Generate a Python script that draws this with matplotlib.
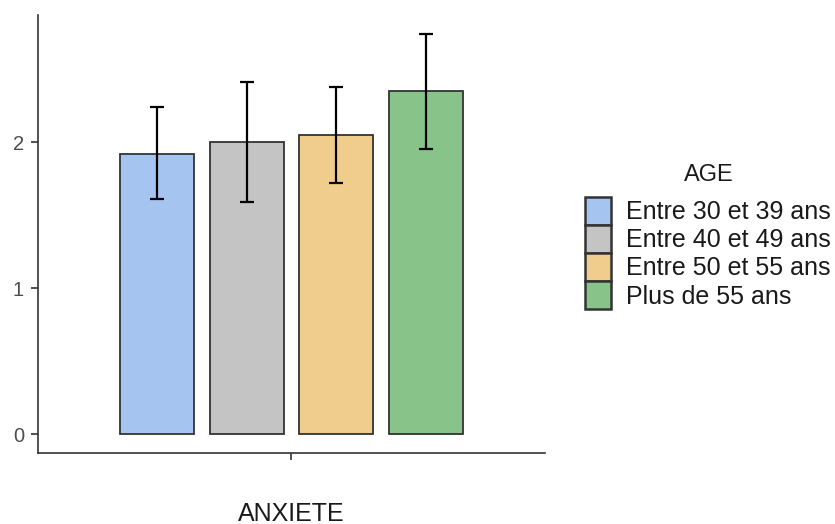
import numpy as np
import matplotlib
matplotlib.use("Agg")
import matplotlib.pyplot as plt
from matplotlib.patches import Patch

#### data

groups = ["Entre 30 et 39 ans", "Entre 40 et 49 ans", "Entre 50 et 55 ans", "Plus de 55 ans"]
means = [1.92, 2.00, 2.05, 2.35]
err_low = [1.61, 1.59, 1.72, 1.95]
err_high = [2.24, 2.41, 2.38, 2.74]
colors = ["#A6C4F0", "#C4C4C4", "#F0CD8D", "#88C38A"]
variable = "ANXIETE"
legend_title = "AGE"

#### figure

plt.rcParams["font.family"] = ["Liberation Sans", "DejaVu Sans"]
dark = "#333333"

fig = plt.figure(figsize=(8.35, 5.24), dpi=100)
ax = fig.add_axes([38 / 835, 71 / 524, 507 / 835, 438 / 524])

# dodged bars around the single x category
dodge = 0.85 / len(groups)
width = 0.7 / len(groups)
x0 = 1.0
for i, (g, m, lo, hi, c) in enumerate(zip(groups, means, err_low, err_high, colors)):
    xi = x0 + (i - (len(groups) - 1) / 2) * dodge
    ax.bar(xi, m, width=width, color=c, edgecolor=dark, linewidth=1.3, zorder=2)
    ax.errorbar(xi, m, yerr=[[m - lo], [hi - m]], fmt="none", ecolor="black",
                elinewidth=1.6, capsize=5, capthick=1.6, zorder=3)

ax.set_xlim(0.4, 1.6)
ax.set_ylim(-0.13, 2.87)
ax.set_yticks([0, 1, 2])
ax.set_xticks([x0])
ax.set_xticklabels([""])
ax.set_xlabel(variable, fontsize=18, color="#1a1a1a", labelpad=25)

for side in ["top", "right"]:
    ax.spines[side].set_visible(False)
for side in ["left", "bottom"]:
    ax.spines[side].set_color(dark)
    ax.spines[side].set_linewidth(1.2)
ax.tick_params(axis="both", colors=dark, width=1.2, length=5, pad=5,
               labelsize=14.5, labelcolor="#4D4D4D")

# legend on the right, keys stacked without gaps, title drawn separately
handles = [Patch(facecolor=c, edgecolor=dark, linewidth=1.8) for c in colors]
leg = fig.legend(handles, groups, loc="upper left",
                 bbox_to_anchor=(585 / 835, 1 - 197 / 524), frameon=False,
                 fontsize=18, handlelength=1.03, handleheight=1.35,
                 handletextpad=0.62, labelspacing=0.0,
                 borderpad=0, borderaxespad=0)
for t in leg.get_texts():
    t.set_color("#1a1a1a")
fig.text(709 / 835, 1 - 175 / 524, legend_title, fontsize=17,
         color="#1a1a1a", ha="center", va="center")

fig.savefig("out.png", dpi=100)
